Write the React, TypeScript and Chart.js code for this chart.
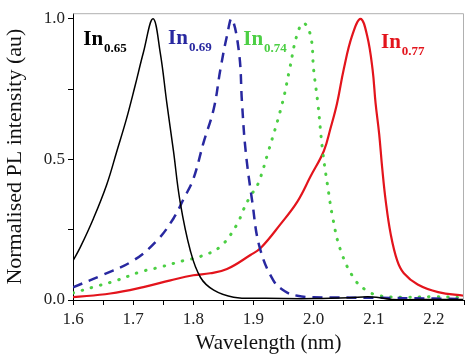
import React, { useEffect, useRef } from 'react';
import { Chart, registerables } from 'chart.js';

Chart.register(...registerables);

// In0.65 (black, solid thin)
const wl065 = [1.6, 1.612, 1.634, 1.656, 1.673, 1.689, 1.703, 1.717, 1.733, 1.745, 1.756, 1.767, 1.778, 1.795, 1.812, 1.834, 1.867, 1.92, 2.0, 2.06, 2.09, 2.11, 2.13, 2.2, 2.25];
const pl065 = [0.14, 0.187, 0.29, 0.41, 0.53, 0.645, 0.76, 0.88, 1.0, 0.88, 0.7, 0.53, 0.35, 0.176, 0.08, 0.035, 0.01, 0.006, 0.005, 0.008, 0.012, 0.008, 0.002, 0.002, 0.002];

// In0.69 (blue, dashed)
const wl069 = [1.6, 1.65, 1.7, 1.739, 1.767, 1.784, 1.8, 1.817, 1.834, 1.845, 1.856, 1.864, 1.876, 1.881, 1.887, 1.898, 1.91, 1.933, 1.953, 1.973, 2.0, 2.1, 2.2, 2.25];
const pl069 = [0.045, 0.09, 0.14, 0.21, 0.29, 0.36, 0.43, 0.56, 0.68, 0.82, 0.94, 1.0, 0.88, 0.7, 0.53, 0.35, 0.19, 0.07, 0.03, 0.015, 0.01, 0.008, 0.005, 0.003];

// In0.74 (green, dotted)
const wl074 = [1.6, 1.634, 1.673, 1.712, 1.745, 1.784, 1.812, 1.845, 1.873, 1.883, 1.895, 1.907, 1.925, 1.948, 1.96, 1.972, 1.983, 1.995, 2.0, 2.007, 2.015, 2.023, 2.032, 2.045, 2.067, 2.087, 2.11, 2.15, 2.2, 2.25];
const pl074 = [0.025, 0.046, 0.07, 0.1, 0.117, 0.14, 0.155, 0.19, 0.27, 0.32, 0.37, 0.41, 0.53, 0.7, 0.82, 0.94, 0.985, 0.94, 0.82, 0.7, 0.53, 0.41, 0.29, 0.176, 0.077, 0.035, 0.015, 0.01, 0.012, 0.008];

// In0.77 (red, solid)
const wl077 = [1.6, 1.662, 1.717, 1.762, 1.8, 1.828, 1.856, 1.895, 1.912, 1.945, 1.973, 1.995, 2.017, 2.028, 2.039, 2.05, 2.064, 2.078, 2.089, 2.098, 2.103, 2.109, 2.114, 2.12, 2.128, 2.139, 2.15, 2.173, 2.207, 2.25];
const pl077 = [0.01, 0.023, 0.046, 0.07, 0.088, 0.095, 0.11, 0.16, 0.185, 0.27, 0.35, 0.44, 0.53, 0.61, 0.7, 0.82, 0.94, 1.0, 0.94, 0.82, 0.7, 0.59, 0.47, 0.35, 0.236, 0.14, 0.095, 0.055, 0.028, 0.015];

const xTicks = [1.6, 1.65, 1.7, 1.75, 1.8, 1.85, 1.9, 1.95, 2.0, 2.05, 2.1, 2.15, 2.2, 2.25];
const yTicks = [0, 0.25, 0.5, 0.75, 1.0];

const seriesSubs = ['0.65', '0.69', '0.74', '0.77'];
const seriesColors = ['#000000', '#2828a0', '#4ccf44', '#e3141c'];
// label anchors in data units (wavelength, intensity) for the "In" baseline start
const labelAtX = [1.617, 1.758, 1.883, 2.112];
const labelAtY = [0.908, 0.912, 0.908, 0.898];

const pts = (xs: number[], ys: number[]) => xs.map((x, i) => ({ x, y: ys[i] }));

const serif = "'Liberation Serif', 'DejaVu Serif', serif";

const framePlugin = {
  id: 'frame',
  afterDraw(chart: any) {
    const { ctx, chartArea } = chart;
    ctx.save();
    ctx.strokeStyle = '#b0b0b0';
    ctx.lineWidth = 1;
    ctx.beginPath();
    ctx.moveTo(chartArea.left, chartArea.top + 0.5);
    ctx.lineTo(chartArea.right - 0.5, chartArea.top + 0.5);
    ctx.lineTo(chartArea.right - 0.5, chartArea.bottom);
    ctx.stroke();
    ctx.restore();
  },
};

const labelPlugin = {
  id: 'inLabels',
  afterDatasetsDraw(chart: any) {
    const { ctx } = chart;
    const xs = chart.scales.x;
    const ys = chart.scales.y;
    ctx.save();
    ctx.textBaseline = 'alphabetic';
    ctx.textAlign = 'left';
    seriesSubs.forEach((sub, i) => {
      const px = xs.getPixelForValue(labelAtX[i]);
      const py = ys.getPixelForValue(labelAtY[i]);
      ctx.fillStyle = seriesColors[i];
      ctx.font = `bold 21px ${serif}`;
      ctx.fillText('In', px, py);
      const w = ctx.measureText('In').width;
      ctx.font = `bold 13px ${serif}`;
      ctx.fillText(sub, px + w + 1, py + 7);
    });
    ctx.restore();
  },
};

export default function App() {
  const ref = useRef<HTMLCanvasElement | null>(null);
  useEffect(() => {
    if (!ref.current) return;
    const mk = (i: number, xs: number[], ys: number[], extra: any) => ({
      label: 'In' + seriesSubs[i],
      data: pts(xs, ys),
      borderColor: seriesColors[i],
      backgroundColor: seriesColors[i],
      pointRadius: 0,
      fill: false,
      tension: 0.4,
      ...extra,
    });
    const chart = new Chart(ref.current, {
      type: 'line',
      data: {
        datasets: [
          mk(0, wl065, pl065, { borderWidth: 1.5 }),
          mk(1, wl069, pl069, { borderWidth: 2.5, borderDash: [10, 7] }),
          mk(2, wl074, pl074, { borderWidth: 3, borderDash: [0.5, 9], borderCapStyle: 'round' }),
          mk(3, wl077, pl077, { borderWidth: 2.2 }),
        ],
      },
      options: {
        animation: false,
        responsive: false,
        devicePixelRatio: 1,
        layout: { padding: { left: 0, right: 9, top: 10, bottom: 0 } },
        plugins: { legend: { display: false }, tooltip: { enabled: false } },
        scales: {
          x: {
            type: 'linear',
            min: 1.6,
            max: 2.25,
            afterFit: (s: any) => { s.height = 63; },
            afterBuildTicks: (s: any) => { s.ticks = xTicks.map((v) => ({ value: v })); },
            ticks: {
              autoSkip: false,
              maxRotation: 0,
              padding: 4,
              color: '#222',
              font: { family: serif, size: 17 },
              callback: (v: any) => (Math.round(Number(v) * 100) % 10 === 0 ? Number(v).toFixed(1) : ''),
            },
            grid: { drawOnChartArea: false, drawTicks: true, tickLength: 5, color: '#000' },
            border: { display: true, color: '#000', width: 1 },
            title: {
              display: true,
              text: 'Wavelength (nm)',
              color: '#111',
              font: { family: serif, size: 21 },
              padding: { top: 0, bottom: 7 },
            },
          },
          y: {
            type: 'linear',
            min: 0,
            max: 1.02,
            afterFit: (s: any) => { s.width = 73; },
            afterBuildTicks: (s: any) => { s.ticks = yTicks.map((v) => ({ value: v })); },
            ticks: {
              autoSkip: false,
              padding: 3,
              color: '#222',
              font: { family: serif, size: 17 },
              callback: (v: any) => (Math.round(Number(v) * 100) % 50 === 0 ? Number(v).toFixed(1) : ''),
            },
            grid: { drawOnChartArea: false, drawTicks: true, tickLength: 5, color: '#000' },
            border: { display: true, color: '#000', width: 1 },
            title: {
              display: true,
              text: 'Normalised PL intensity (au)',
              color: '#111',
              font: { family: serif, size: 22 },
              padding: { top: 2, bottom: 0 },
            },
          },
        },
      },
      plugins: [framePlugin, labelPlugin],
    } as any);
    return () => chart.destroy();
  }, []);
  return (
    <div style={{ position: 'fixed', left: 0, top: 0, width: 473, height: 363, background: '#fff' }}>
      <canvas ref={ref} width={473} height={363} style={{ width: 473, height: 363, display: 'block' }} />
    </div>
  );
}
